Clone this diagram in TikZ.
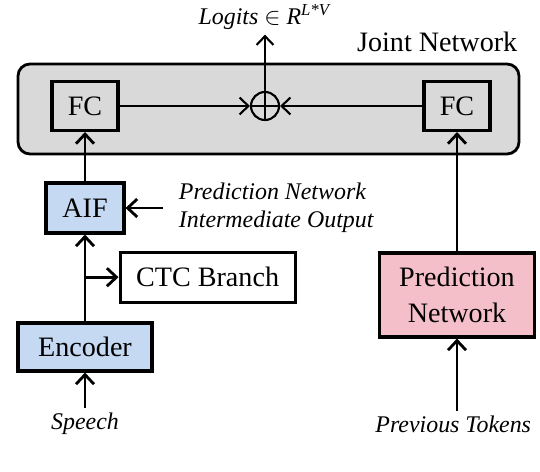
\documentclass[tikz,border=0pt]{standalone}
\usepackage{fontspec}
\setmainfont{Liberation Serif}
\usepackage{tikz}
\usetikzlibrary{arrows.meta}
\definecolor{jointgray}{RGB}{217,217,217}
\definecolor{encblue}{RGB}{197,217,242}
\definecolor{predpink}{RGB}{245,191,202}

\begin{document}
\begin{tikzpicture}[
  blk/.style={draw, line width=2.2pt, inner sep=0pt, align=center, font=\fontsize{20}{26}\selectfont},
  lbl/.style={font=\fontsize{17}{20}\selectfont\itshape, align=left},
  flow/.style={line width=2pt, -{Straight Barb[length=0.24cm, width=0.45cm]}},
  link/.style={line width=1.5pt, -{Straight Barb[length=0.22cm, width=0.42cm]}}]
  \useasboundingbox (0,0) rectangle (13.5,-11.8);
  % joint network
  \draw[fill=jointgray, line width=2pt, rounded corners=0.3cm] (0.45,-1.6) rectangle (12.975,-3.85);
  \node[font=\fontsize{20}{24}\selectfont] (joint) at (10.93,-1.05) {Joint Network};
  \node[blk, minimum width=1.65cm, minimum height=1.225cm] (fcl) at (2.125,-2.65) {FC};
  \node[blk, minimum width=1.65cm, minimum height=1.225cm] (fcr) at (11.425,-2.65) {FC};
  \node[draw, circle, line width=1.5pt, minimum size=0.7cm, inner sep=0pt] (sum) at (6.625,-2.65) {};
  \draw[line width=1.5pt] (sum.north) -- (sum.south) (sum.west) -- (sum.east);
  \node[font=\fontsize{17}{20}\selectfont] (logits) at (6.625,-0.43) {\textit{Logits} $\in$ \textit{R}\textsuperscript{\textit{L*V}}};
  \draw[link] (fcl) -- (sum);
  \draw[link] (fcr) -- (sum);
  \draw[link] (sum.north) -- (logits.south);
  % encoder side
  \node[blk, fill=encblue, minimum width=1.95cm, minimum height=1.25cm] (aif) at (2.125,-5.2) {AIF};
  \node[blk, fill=white, minimum width=4.375cm, minimum height=1.25cm] (ctc) at (5.19,-6.93) {CTC Branch};
  \node[blk, fill=encblue, minimum width=3.35cm, minimum height=1.2cm] (enc) at (2.125,-8.675) {Encoder};
  \node[lbl, anchor=west] (pnio) at (4.35,-5.2) {Prediction Network\\Intermediate Output};
  \coordinate (pnin) at (4.08,-5.2);
  \node[lbl] (speech) at (2.125,-10.6) {Speech};
  \coordinate (br) at (enc.north |- ctc.west);
  \draw[flow] (enc) -- (aif);
  \draw[flow] (br) -- (ctc);
  \draw[flow] (pnin) -- (aif);
  \draw[flow] (aif) -- (fcl);
  \draw[flow] (speech.north) -- (enc);
  % prediction side
  \node[blk, fill=predpink, minimum width=3.875cm, minimum height=2.1cm] (pred) at (11.425,-7.375) {Prediction\\Network};
  \node[lbl] (prev) at (11.33,-10.6) {Previous Tokens};
  \draw[flow] (pred) -- (fcr);
  \draw[flow] (prev.north -| pred.south) -- (pred);
\end{tikzpicture}
\end{document}
